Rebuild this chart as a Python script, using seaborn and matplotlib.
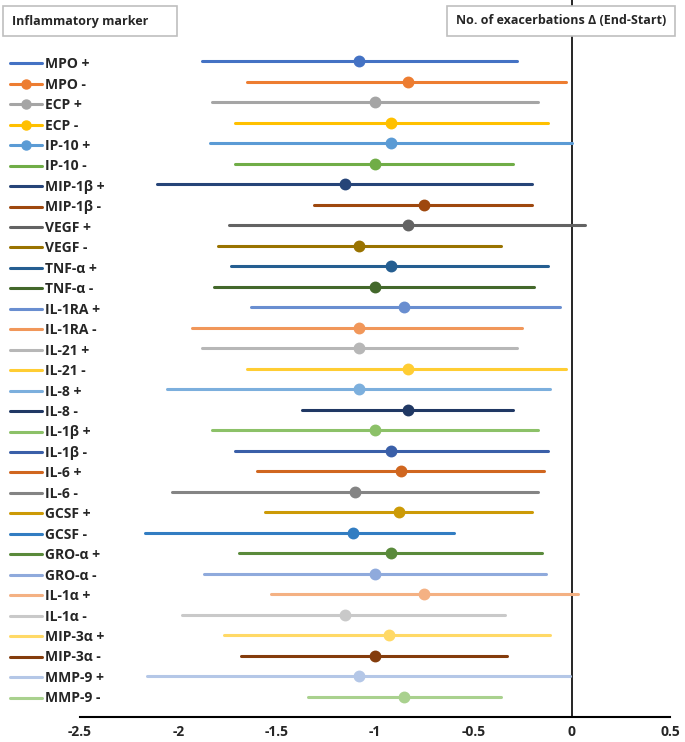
import pandas as pd
import matplotlib
matplotlib.use("Agg")
import matplotlib.pyplot as plt
from matplotlib.lines import Line2D
import seaborn as sns

markers = [
    "MPO +", "MPO -", "ECP +", "ECP -", "IP-10 +", "IP-10 -",
    "MIP-1β +", "MIP-1β -", "VEGF +", "VEGF -", "TNF-α +", "TNF-α -",
    "IL-1RA +", "IL-1RA -", "IL-21 +", "IL-21 -", "IL-8 +", "IL-8 -",
    "IL-1β +", "IL-1β -", "IL-6 +", "IL-6 -", "GCSF +", "GCSF -",
    "GRO-α +", "GRO-α -", "IL-1α +", "IL-1α -", "MIP-3α +", "MIP-3α -",
    "MMP-9 +", "MMP-9 -",
]
low = [
    -1.88, -1.65, -1.83, -1.71, -1.84, -1.71, -2.11, -1.31, -1.74, -1.80,
    -1.73, -1.82, -1.63, -1.93, -1.88, -1.65, -2.06, -1.37, -1.83, -1.71,
    -1.60, -2.03, -1.56, -2.17, -1.69, -1.87, -1.53, -1.98, -1.77, -1.68,
    -2.16, -1.34,
]
mid = [
    -1.08, -0.83, -1.00, -0.92, -0.92, -1.00, -1.15, -0.75, -0.83, -1.08,
    -0.92, -1.00, -0.85, -1.08, -1.08, -0.83, -1.08, -0.83, -1.00, -0.92,
    -0.87, -1.10, -0.88, -1.11, -0.92, -1.00, -0.75, -1.15, -0.93, -1.00,
    -1.08, -0.85,
]
high = [
    -0.28, -0.03, -0.17, -0.12, 0.00, -0.30, -0.20, -0.20, 0.07, -0.36,
    -0.12, -0.19, -0.06, -0.25, -0.28, -0.03, -0.11, -0.30, -0.17, -0.12,
    -0.14, -0.17, -0.20, -0.60, -0.15, -0.13, 0.03, -0.34, -0.11, -0.33,
    -0.01, -0.36,
]
colors = [
    "#4472C4", "#ED7D31", "#A5A5A5", "#FFC000", "#5B9BD5", "#70AD47",
    "#264478", "#9E480E", "#636363", "#997300", "#255E91", "#43682B",
    "#698ED0", "#F1975A", "#B7B7B7", "#FFCD33", "#7CAFDD", "#203864",
    "#8CC168", "#3A5FA8", "#D0661F", "#848484", "#CC9A06", "#327DC2",
    "#5A8A3B", "#8FAADC", "#F4B183", "#C9C9C9", "#FFD966", "#843C0C",
    "#B4C7E7", "#A9D18E",
]
# Excel only drew the marker in the legend for these entries
legend_with_dot = ["MPO -", "ECP +", "ECP -", "IP-10 +"]

df = pd.DataFrame({
    "marker": markers * 3,
    "value": low + mid + high,
})

sns.set_style("white")
plt.rcParams["font.family"] = ["Open Sans", "DejaVu Sans"]

fig = plt.figure(figsize=(6.85, 7.42), dpi=100)
ax = fig.add_axes([80 / 685, 1 - 717 / 742, 590 / 685, 717 / 742])

sns.pointplot(
    data=df,
    x="value",
    y="marker",
    hue="marker",
    order=markers,
    hue_order=markers,
    palette=colors,
    estimator="median",
    errorbar=lambda v: (v.min(), v.max()),
    linestyle="none",
    markers="o",
    markersize=6.5,
    err_kws={"linewidth": 2.2},
    dodge=False,
    legend=False,
    ax=ax,
)

ax.axvline(0, color="black", linewidth=1.2, zorder=0)
ax.set_xlim(-2.5, 0.5)
ax.set_ylim(32, -3)
ax.set_xticks([-2.5, -2, -1.5, -1, -0.5, 0, 0.5])
ax.set_xticklabels(["-2.5", "-2", "-1.5", "-1", "-0.5", "0", "0.5"],
                   fontweight="bold", fontsize=10)
ax.tick_params(axis="x", length=0, pad=6)
ax.set_yticks([])
ax.set_xlabel("")
ax.set_ylabel("")
for side in ["left", "top", "right"]:
    ax.spines[side].set_visible(False)
ax.spines["bottom"].set_color("black")
ax.spines["bottom"].set_linewidth(1.5)

handles = []
for name, col in zip(markers, colors):
    if name in legend_with_dot:
        handles.append(Line2D([], [], color=col, linewidth=2.2,
                              marker="o", markersize=6.5))
    else:
        handles.append(Line2D([], [], color=col, linewidth=2.2))

fig.legend(
    handles, markers,
    loc="upper left",
    bbox_to_anchor=(6 / 685, 1 - 53 / 742),
    frameon=False,
    handlelength=2.3,
    handletextpad=0.2,
    labelspacing=0.465,
    borderaxespad=0,
    borderpad=0.3,
    prop={"weight": "bold", "size": 10},
)

box = {"boxstyle": "square,pad=0.7", "facecolor": "white",
       "edgecolor": "#BFBFBF", "linewidth": 1.2}
fig.text(12 / 685, 1 - 21 / 742, "Inflammatory marker      ", fontsize=9,
         fontweight="bold", va="center", ha="left", bbox=box)
fig.text(561 / 685, 1 - 21 / 742, "No. of exacerbations Δ (End-Start)",
         fontsize=9, fontweight="bold", va="center", ha="center", bbox=box)

fig.savefig("out.png", dpi=100)
